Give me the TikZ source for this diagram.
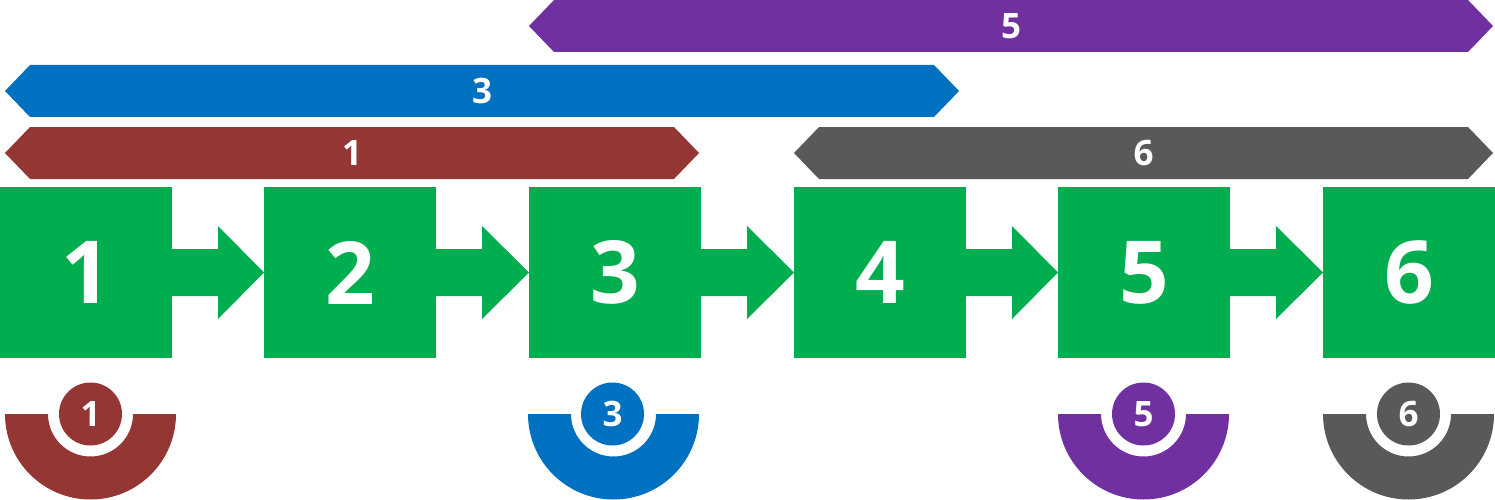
\documentclass[tikz,border=0pt]{standalone}
\usepackage{fontspec}
\setmainfont{Open Sans}
\usetikzlibrary{calc}
\definecolor{cgreen}{HTML}{00AD4F}
\definecolor{cred}{HTML}{943634}
\definecolor{cblue}{HTML}{0070C0}
\definecolor{cpurple}{HTML}{7030A0}
\definecolor{cgray}{HTML}{595959}
\newcommand{\mybanner}[4]{%
  \fill[#1] (#2,#4+26) -- (#2+25,#4) -- (#3-25,#4) -- (#3,#4+26) -- (#3-25,#4+52) -- (#2+25,#4+52) -- cycle;}
\newcommand{\myring}[2]{%
  \fill[#1] (#2-85.5,414) arc[start angle=180,end angle=360,radius=85.5pt] -- (#2+42.5,414) arc[start angle=0,end angle=-180,radius=42.5pt] -- cycle;}
\newcommand{\myarrow}[2]{%
  \fill[cgreen] ($(#1.east)+(-1pt,23.5pt)$) -- ($(#1.east)+(46pt,23.5pt)$) -- ($(#1.east)+(46pt,46.5pt)$) -- (#2.west) -- ($(#1.east)+(46pt,-46.5pt)$) -- ($(#1.east)+(46pt,-23.5pt)$) -- ($(#1.east)+(-1pt,-23.5pt)$) -- cycle;}
\begin{document}
\begin{tikzpicture}[x=1pt,y=-1pt,
  stepbox/.style={fill=cgreen, minimum width=172pt, minimum height=171pt, inner sep=0pt, outer sep=0pt, text=white, font=\fontsize{87}{87}\selectfont\bfseries},
  bannertext/.style={text=white, inner sep=0pt, font=\fontsize{35}{35}\selectfont\bfseries},
  badge/.style={circle, minimum size=63pt, inner sep=0pt, outer sep=0pt, text=white, font=\fontsize{35}{35}\selectfont\bfseries}]
\useasboundingbox (0,0) rectangle (1495,500);
% banners
\mybanner{cpurple}{529}{1493}{0}
\mybanner{cblue}{5}{959}{65}
\mybanner{cred}{5}{699}{127}
\mybanner{cgray}{794}{1493}{127}
\node[bannertext] (t5) at (1011,26) {5};
\node[bannertext] (t3) at (482,91) {3};
\node[bannertext] (t1) at (352,153) {1};
\node[bannertext] (t6) at (1143.5,153) {6};
% steps
\node[stepbox] (s1) at (86,272.5) {1};
\node[stepbox] (s2) at (350,272.5) {2};
\node[stepbox] (s3) at (615,272.5) {3};
\node[stepbox] (s4) at (880,272.5) {4};
\node[stepbox] (s5) at (1144,272.5) {5};
\node[stepbox] (s6) at (1409,272.5) {6};
\myarrow{s1}{s2}
\myarrow{s2}{s3}
\myarrow{s3}{s4}
\myarrow{s4}{s5}
\myarrow{s5}{s6}
% rings
\myring{cred}{90.5}
\myring{cblue}{613.5}
\myring{cpurple}{1143.5}
\myring{cgray}{1408.5}
\node[badge, fill=cred] (b1) at (90.5,414) {1};
\node[badge, fill=cblue] (b3) at (612.5,414) {3};
\node[badge, fill=cpurple] (b5) at (1143.5,414) {5};
\node[badge, fill=cgray] (b6) at (1408.5,414) {6};
\end{tikzpicture}
\end{document}
